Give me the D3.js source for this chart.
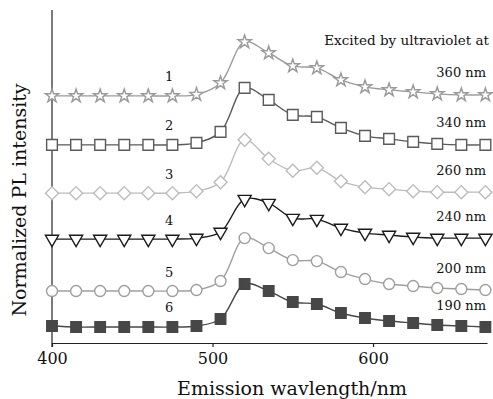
<!DOCTYPE html>
<html>
<head>
<meta charset="utf-8">
<script src="https://cdn.jsdelivr.net/npm/d3@7"></script>
<style>
  body { margin: 0; background: #fff; }
  text { font-family: "DejaVu Serif", "Liberation Serif", serif; fill: #111; }
</style>
</head>
<body>
<div id="chart"></div>
<script>
// emission wavelengths (nm)
const wavelengths = [400, 415, 430, 445, 460, 475, 490, 505, 520, 535, 550, 565, 580, 595, 610, 625, 640, 655, 670];

// normalized PL intensity (offset per curve)
const s360 = [7.42, 7.42, 7.42, 7.42, 7.42, 7.42, 7.46, 7.81, 9.04, 8.71, 8.32, 8.26, 7.90, 7.69, 7.60, 7.54, 7.48, 7.45, 7.45];
const s340 = [5.95, 5.95, 5.95, 5.95, 5.95, 5.95, 6.01, 6.34, 7.66, 7.30, 6.85, 6.79, 6.46, 6.22, 6.13, 6.04, 5.98, 5.95, 5.95];
const s260 = [4.50, 4.50, 4.50, 4.50, 4.50, 4.50, 4.56, 4.83, 6.10, 5.53, 5.17, 5.26, 4.86, 4.68, 4.62, 4.56, 4.53, 4.53, 4.53];
const s240 = [3.12, 3.12, 3.12, 3.12, 3.12, 3.12, 3.15, 3.33, 4.32, 4.20, 3.75, 3.72, 3.45, 3.30, 3.24, 3.18, 3.15, 3.15, 3.15];
const s200 = [1.56, 1.56, 1.56, 1.56, 1.56, 1.56, 1.59, 1.86, 3.15, 2.85, 2.49, 2.46, 2.13, 1.92, 1.77, 1.71, 1.65, 1.62, 1.59];
const s190 = [0.51, 0.48, 0.48, 0.48, 0.48, 0.48, 0.51, 0.72, 1.77, 1.56, 1.23, 1.17, 0.90, 0.75, 0.66, 0.60, 0.54, 0.51, 0.48];

const curveNames = ['1', '2', '3', '4', '5', '6'];
const excitation = ['360 nm', '340 nm', '260 nm', '240 nm', '200 nm', '190 nm'];
const xTicks = [400, 500, 600];

const series = [
  { values: s360, color: '#9a9a9a', symbol: d3.symbolStar, size: 55, fill: '#fff', rotate: 0 },
  { values: s340, color: '#5a5a5a', symbol: d3.symbolSquare, size: 115, fill: '#fff', rotate: 0 },
  { values: s260, color: '#bcbcbc', symbol: d3.symbolSquare, size: 85, fill: '#fff', rotate: 45 },
  { values: s240, color: '#1a1a1a', symbol: d3.symbolTriangle, size: 75, fill: '#fff', rotate: 180 },
  { values: s200, color: '#9e9e9e', symbol: d3.symbolCircle, size: 95, fill: '#fff', rotate: 0 },
  { values: s190, color: '#474747', symbol: d3.symbolSquare, size: 110, fill: '#474747', rotate: 0 }
];

const width = 493, height = 399;
const svg = d3.select('#chart').append('svg')
  .attr('width', width)
  .attr('height', height);

const x = d3.scaleLinear().domain([400, 671]).range([52, 487]);
const y = d3.scaleLinear().domain([0, 10]).range([343, 10]);

// x axis
svg.append('g')
  .attr('transform', `translate(0, ${y(0)})`)
  .call(d3.axisBottom(x).tickValues(xTicks).tickSize(4).tickSizeOuter(0).tickPadding(6))
  .call(g => g.select('.domain').attr('stroke', '#222').attr('stroke-width', 1.2))
  .call(g => g.selectAll('.tick line').attr('stroke', '#222').attr('stroke-width', 1.2))
  .call(g => g.selectAll('.tick text')
    .style('font-family', '"DejaVu Serif", serif')
    .style('font-size', '16px')
    .attr('fill', '#111'));

// y axis (no ticks)
svg.append('line')
  .attr('x1', x(400)).attr('x2', x(400))
  .attr('y1', y(10)).attr('y2', y(0) + 4)
  .attr('stroke', '#222')
  .attr('stroke-width', 1.2);

const line = d3.line()
  .x((d, i) => x(wavelengths[i]))
  .y(d => y(d))
  .curve(d3.curveCatmullRom.alpha(0.5));

series.forEach((s, k) => {
  svg.append('path')
    .datum(s.values)
    .attr('d', line)
    .attr('fill', 'none')
    .attr('stroke', s.color)
    .attr('stroke-width', 1.4);

  svg.append('g').selectAll('path')
    .data(s.values)
    .enter()
    .append('path')
    .attr('d', d3.symbol().type(s.symbol).size(s.size))
    .attr('transform', (d, i) => `translate(${x(wavelengths[i])}, ${y(d)}) rotate(${s.rotate})`)
    .attr('fill', s.fill)
    .attr('stroke', s.color)
    .attr('stroke-width', 1.4);

  // curve number
  svg.append('text')
    .attr('x', x(473))
    .attr('y', y(s.values[0]) - 19)
    .attr('text-anchor', 'middle')
    .attr('dominant-baseline', 'central')
    .style('font-size', '13px')
    .text(curveNames[k]);

  // excitation wavelength
  svg.append('text')
    .attr('x', 486)
    .attr('y', y(s.values[s.values.length - 1]) - 22)
    .attr('text-anchor', 'end')
    .attr('dominant-baseline', 'central')
    .style('font-size', '13px')
    .text(excitation[k]);
});

svg.append('text')
  .attr('x', 489)
  .attr('y', 40)
  .attr('text-anchor', 'end')
  .attr('dominant-baseline', 'central')
  .style('font-size', '13.5px')
  .text('Excited by ultraviolet at');

// axis titles
svg.append('text')
  .attr('x', 292)
  .attr('y', 388)
  .attr('text-anchor', 'middle')
  .attr('dominant-baseline', 'central')
  .style('font-size', '19px')
  .text('Emission wavlength/nm');

svg.append('text')
  .attr('transform', 'translate(19, 200) rotate(-90)')
  .attr('text-anchor', 'middle')
  .attr('dominant-baseline', 'central')
  .style('font-size', '19px')
  .text('Normalized PL intensity');
</script>
</body>
</html>
